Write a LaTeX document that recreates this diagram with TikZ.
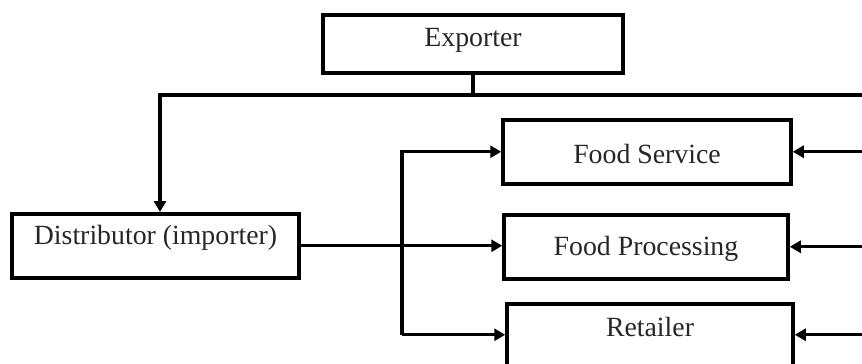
\documentclass[tikz,border=0pt]{standalone}
\usepackage{fontspec}
\setmainfont{Liberation Serif}
\usetikzlibrary{arrows.meta}
\begin{document}
\begin{tikzpicture}[x=1pt,y=-1pt,
  box/.style={draw, line width=3.5pt, inner sep=0pt, anchor=north,
    font=\fontsize{27.8}{33}\selectfont, text=black!85},
  conn/.style={line width=3.2pt},
  arr/.style={conn, -{Triangle[length=11pt,width=12pt]}}]
\useasboundingbox (0,0) rectangle (862,364);
\clip (0,0) rectangle (862,364);
% boxes
\node[box, minimum width=300pt, text height=32pt, text depth=26pt] (exp) at (473,13) {Exporter};
\node[box, minimum width=287pt, text height=31pt, text depth=33pt] (dist) at (155.5,212) {Distributor (importer)};
\node[box, minimum width=288pt, text height=44pt, text depth=20pt] (fs) at (647,118) {Food Service};
\node[box, minimum width=284pt, text height=41pt, text depth=23pt] (fp) at (646,213) {Food Processing};
\node[box, minimum width=286pt, text height=33pt, text depth=65pt] (ret) at (650,302) {Retailer};
% helper coordinates
\coordinate (top) at (862,95);
\coordinate (R) at (862,0);
\coordinate (bx) at (402,0);
\coordinate (ra) at ([yshift=18pt]ret.west);
\coordinate (rb) at ([yshift=18pt]ret.east);
% exporter to distributor
\draw[conn] (exp.south) -- (exp.south |- top);
\draw[arr] (top) -- ([xshift=4.5pt]dist.north |- top) -- ([xshift=4.5pt]dist.north);
% distributor to food processing
\draw[arr] (dist.east) -- (dist.east -| fp.west);
% bus
\draw[arr] (ra -| bx) -- (fs.west -| bx) -- (fs.west);
\draw[arr] (ra -| bx) -- (ra);
% right side arrows
\draw[arr] (fs.east -| R) -- (fs.east);
\draw[arr] (fp.east -| R) -- (fp.east);
\draw[arr] (rb -| R) -- (rb);
\end{tikzpicture}
\end{document}
